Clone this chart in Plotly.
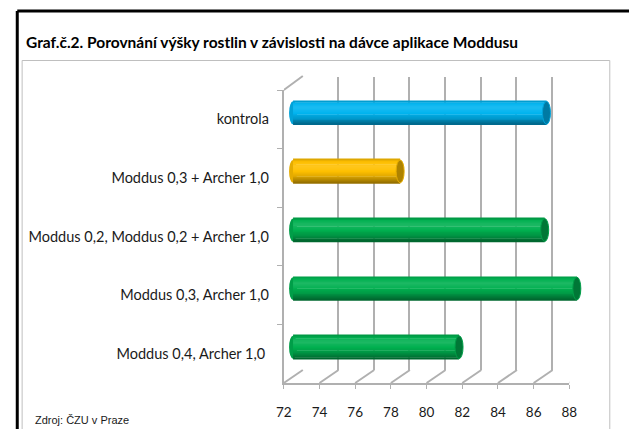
import plotly.graph_objects as go

# ---------------- data ----------------
categories = [
    "kontrola",
    "Moddus 0,3 + Archer 1,0",
    "Moddus 0,2, Moddus 0,2 + Archer 1,0",
    "Moddus 0,3, Archer 1,0",
    "Moddus 0,4, Archer 1,0 ",
]
values = [86.2, 78.0, 86.1, 87.9, 81.3]
bar_colors = ["#00B4F0", "#FFC000", "#00B050", "#00B050", "#00B050"]
x_ticks = [72, 74, 76, 78, 80, 82, 84, 86, 88]
x_range = [72, 88]
title_text = "Graf.č.2. Porovnání výšky rostlin v závislosti na dávce aplikace Moddusu"
source_text = "Zdroj: ČZU v Praze"

# ---------------- layout geometry (screen pixels) ----------------
W, H = 629, 429
OFF = 0  # body margin removed via post_script below
front_left, front_right = 283, 576
front_top, front_bottom = 90, 383
dx, dy = 19, 13  # depth offset of the back wall
scale = (front_right - front_left) / (x_range[1] - x_range[0])  # px per unit
pad = 8  # extra room on the left of the bar axes so the left caps are not clipped


def px(x):
    return (x - OFF) / W


def py(y):
    return 1 - (y - OFF) / H


def xdom(l, r):
    return [px(l), px(r)]


def ydom(t, b):
    return [py(b), py(t)]


GRID = "#B0B0B0"
FONT = "Lato"


def mix(hexc, f):
    r, g, b = int(hexc[1:3], 16), int(hexc[3:5], 16), int(hexc[5:7], 16)
    if f >= 1:
        a = f - 1
        r, g, b = [c + (255 - c) * a for c in (r, g, b)]
    else:
        a = 1 - f
        r, g, b = [c * (1 - a) for c in (r, g, b)]
    return "#%02x%02x%02x" % (int(r), int(g), int(b))


def shade(t):
    # cylinder lighting profile, t=0 top edge, t=1 bottom edge
    pts = [(0.0, 0.82), (0.12, 1.0), (0.3, 1.12), (0.5, 1.02), (0.75, 0.85), (1.0, 0.55)]
    for (t0, f0), (t1, f1) in zip(pts[:-1], pts[1:]):
        if t0 <= t <= t1:
            return f0 + (f1 - f0) * (t - t0) / (t1 - t0)
    return 1.0


fig = go.Figure()

# invisible anchors for front and back axes
fig.add_trace(go.Scatter(x=values, y=categories, xaxis="x", yaxis="y", mode="markers",
                         marker=dict(opacity=0), hoverinfo="skip", showlegend=False))
fig.add_trace(go.Scatter(x=values, y=categories, xaxis="x2", yaxis="y2", mode="markers",
                         marker=dict(opacity=0), hoverinfo="skip", showlegend=False))

# cylinder bars made of thin shaded strips (mid-depth axes)
bw = 0.41
N = 14
for i in range(N):
    t = (i + 0.5) / N
    f = shade(t)
    fig.add_trace(go.Bar(
        x=[v - x_range[0] for v in values], base=x_range[0], y=categories, orientation="h",
        xaxis="x3", yaxis="y3",
        offset=-bw / 2 + i * bw / N, width=bw / N + 0.004,
        marker=dict(color=[mix(c, f) for c in bar_colors], line=dict(width=0)),
        hoverinfo="skip", showlegend=False,
    ))

shapes = []
# end caps
for idx, (v, c) in enumerate(zip(values, bar_colors)):
    shapes.append(dict(type="circle", xref="x3", yref="y3", xsizemode="pixel", xanchor=x_range[0],
                       x0=-4, x1=4, y0=idx - bw / 2 + 0.01, y1=idx + bw / 2 - 0.01,
                       fillcolor=mix(c, 0.9), line=dict(width=0), layer="below"))
    shapes.append(dict(type="circle", xref="x3", yref="y3", xsizemode="pixel", xanchor=v,
                       x0=-4, x1=4, y0=idx - bw / 2 + 0.01, y1=idx + bw / 2 - 0.01,
                       fillcolor=mix(c, 0.68), line=dict(width=1, color=mix(c, 0.9)), layer="above"))

# floor diagonals from the front axis to the back wall
for v in x_ticks:
    shapes.append(dict(type="line", xref="x", yref="y domain", xsizemode="pixel", ysizemode="pixel",
                       xanchor=v, yanchor=0, x0=0, x1=dx, y0=0, y1=dy,
                       line=dict(color=GRID, width=2)))
# top-left diagonal of the side wall
shapes.append(dict(type="line", xref="x", yref="y domain", xsizemode="pixel", ysizemode="pixel",
                   xanchor=x_range[0], yanchor=1, x0=0, x1=dx, y0=0, y1=dy + 1,
                   line=dict(color=GRID, width=2)))

# outer frame (black, top and left) and inner gray box
shapes.append(dict(type="line", xref="paper", yref="paper", x0=px(9.5), x1=1.05,
                   y0=py(11), y1=py(11), line=dict(color="black", width=3)))
shapes.append(dict(type="line", xref="paper", yref="paper", x0=px(9.5), x1=px(9.5),
                   y0=py(11), y1=-0.05, line=dict(color="black", width=3)))
shapes.append(dict(type="rect", xref="paper", yref="paper", x0=px(14.5), x1=px(617.5),
                   y0=-0.05, y1=py(60.5), line=dict(color="#BFBFBF", width=1)))

cat_range = [len(categories) - 0.5, -0.5]
mid_left = front_left + dx / 2 - pad
mid_range = [x_range[0] - pad / scale, x_range[1]]

fig.update_layout(
    width=W, height=H,
    margin=dict(l=0, r=0, t=0, b=0),
    paper_bgcolor="white", plot_bgcolor="rgba(0,0,0,0)",
    barmode="overlay",
    hovermode=False,
    font=dict(family=FONT, size=13, color="#1a1a1a"),
    shapes=shapes,
    xaxis=dict(domain=xdom(front_left, front_right), anchor="y", range=x_range,
               tickvals=x_ticks, showgrid=False, zeroline=False,
               showline=True, linecolor=GRID, linewidth=2,
               ticks="outside", ticklen=4, tickcolor=GRID, tickwidth=1,
               ticklabelstandoff=12, tickfont=dict(family=FONT, size=13.5, color="#1a1a1a")),
    yaxis=dict(domain=ydom(front_top, front_bottom), anchor="x", type="category",
               range=cat_range, showgrid=False, zeroline=False,
               showline=True, linecolor=GRID, linewidth=2,
               ticks="outside", tickson="boundaries", ticklen=5, tickcolor=GRID,
               ticklabelstandoff=10, tickfont=dict(family=FONT, size=14.5, color="#1a1a1a")),
    xaxis2=dict(domain=xdom(front_left + dx, front_right + dx), anchor="y2", range=x_range,
                tickvals=x_ticks, showgrid=True, gridcolor=GRID, gridwidth=2,
                showticklabels=False, zeroline=False, showline=False, ticks=""),
    yaxis2=dict(domain=ydom(front_top - dy, front_bottom - dy), anchor="x2", type="category",
                range=cat_range, showgrid=False, showticklabels=False, zeroline=False,
                showline=False, ticks=""),
    xaxis3=dict(domain=xdom(mid_left, front_right + dx / 2 + 6), anchor="y3",
                range=[mid_range[0], x_range[1] + 6 / scale],
                showgrid=False, showticklabels=False, zeroline=False, showline=False, ticks=""),
    yaxis3=dict(domain=ydom(front_top - dy / 2, front_bottom - dy / 2), anchor="x3", type="category",
                range=cat_range, showgrid=False, showticklabels=False, zeroline=False,
                showline=False, ticks=""),
    annotations=[
        dict(text="<b>" + title_text + "</b>", xref="paper", yref="paper",
             x=px(16), y=py(42), xanchor="left", yanchor="middle", showarrow=False,
             font=dict(family=FONT, size=15.5, color="black")),
        dict(text=source_text, xref="paper", yref="paper",
             x=px(26), y=py(420), xanchor="left", yanchor="middle", showarrow=False,
             font=dict(family="Liberation Sans", size=11, color="#1a1a1a")),
    ],
)

fig.write_html("out.html", config={"displayModeBar": False},
               post_script="document.body.style.margin='0px';")
